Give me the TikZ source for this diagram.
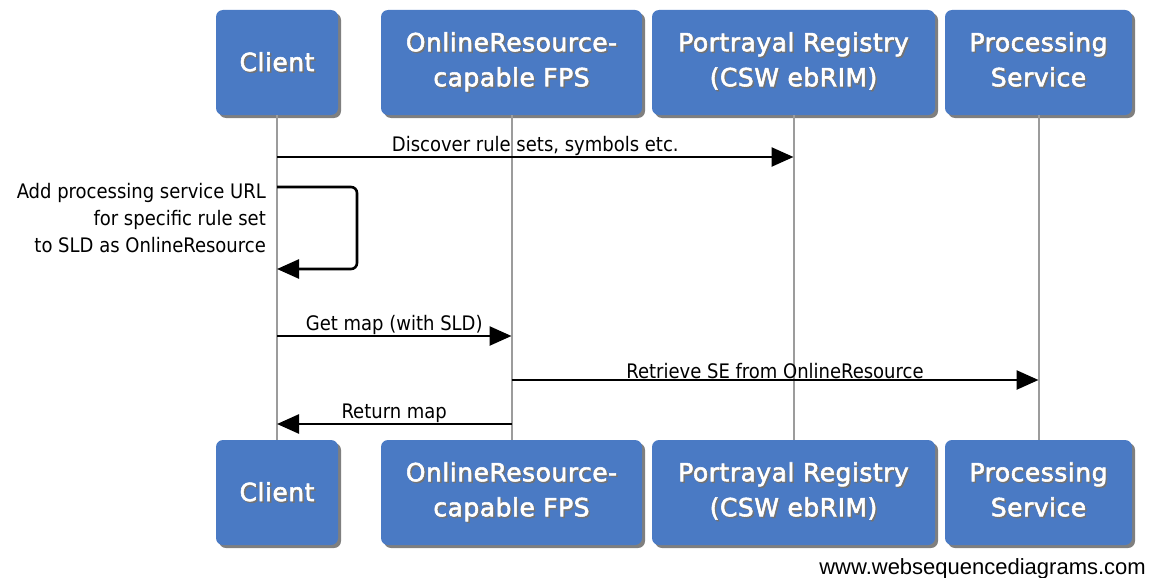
\documentclass[tikz,border=0pt]{standalone}
\usepackage{fontspec}
\setmainfont{DejaVu Sans}
\newfontfamily\boxfont[FakeBold=2.2,LetterSpace=2]{DejaVu Sans}
\newfontfamily\msgfont{DejaVu Sans Condensed}
\newfontfamily\wmfont{Liberation Sans}
\usetikzlibrary{arrows.meta,shadows}
\definecolor{boxblue}{HTML}{4A7AC4}
\definecolor{lifegray}{HTML}{9C9C9C}
% white label with a soft dark copy behind it
\newcommand\shtext[1]{\raisebox{-2pt}{\rlap{\raisebox{-1.5pt}{\kern1.5pt\color{black!55}#1}}#1}}
\newcommand\twoline[2]{\shtext{\begin{tabular}{@{}c@{}}#1\\#2\end{tabular}}}
\begin{document}
\begin{tikzpicture}[x=1pt,y=-1pt,
  actor/.style={fill=boxblue, rounded corners=7pt, text=white,
    font=\boxfont\fontsize{25}{35}\selectfont, align=center, minimum height=105pt,
    inner sep=0pt, drop shadow={shadow xshift=3pt,shadow yshift=-3pt,opacity=0.5,fill=black}},
  lifeline/.style={draw=lifegray, line width=2pt},
  msg/.style={draw=black, line width=2.6pt, -{Triangle[length=22pt,width=19pt]}},
  msglabel/.style={font=\msgfont\fontsize{20}{27}\selectfont, inner sep=0pt}
]
\useasboundingbox (0,0) rectangle (1154,578);

% participants, top row
\node[actor, minimum width=122pt] (cl)  at (277,62.5)    {\shtext{Client}};
\node[actor, minimum width=261pt] (fps) at (511.5,62.5)  {\twoline{OnlineResource-}{capable FPS}};
\node[actor, minimum width=283pt] (reg) at (793.5,62.5)  {\twoline{Portrayal Registry}{(CSW ebRIM)}};
\node[actor, minimum width=187pt] (ps)  at (1038.5,62.5) {\twoline{Processing}{Service}};

% participants, bottom row
\node[actor, minimum width=122pt] (clb)  at (277,492.5)    {\shtext{Client}};
\node[actor, minimum width=261pt] (fpsb) at (511.5,492.5)  {\twoline{OnlineResource-}{capable FPS}};
\node[actor, minimum width=283pt] (regb) at (793.5,492.5)  {\twoline{Portrayal Registry}{(CSW ebRIM)}};
\node[actor, minimum width=187pt] (psb)  at (1038.5,492.5) {\twoline{Processing}{Service}};

% lifelines
\draw[lifeline] (cl.south)  -- (clb.north);
\draw[lifeline] (fps.south) -- (fpsb.north);
\draw[lifeline] (reg.south) -- (regb.north);
\draw[lifeline] (ps.south)  -- (psb.north);

% message 1
\draw[msg] (cl |- 0,157) -- (reg |- 0,157)
  node[msglabel, midway, above=0pt] (m1) {Discover rule sets, symbols etc.};

% self message on the client
\coordinate (s1) at (cl |- 0,187);
\coordinate (s2) at (cl |- 0,269);
\draw[msg, rounded corners=6pt] (s1) -- ++(80,0) |- (s2);
\node[msglabel, anchor=east, align=right] (m2) at (266,218)
  {Add processing service URL\\for specific rule set\\to SLD as OnlineResource};

% message 3
\draw[msg] (cl |- 0,336) -- (fps |- 0,336)
  node[msglabel, midway, above=0pt] (m3) {Get map (with SLD)};

% message 4
\draw[msg] (fps |- 0,380) -- (ps |- 0,380)
  node[msglabel, midway, above=0pt] (m4) {Retrieve SE from OnlineResource};

% message 5
\draw[msg] (fps |- 0,424) -- (cl |- 0,424)
  node[msglabel, midway, above=0pt] (m5) {Return map};

% footer
\node[font=\wmfont\fontsize{22}{26}\selectfont, anchor=base east, inner sep=0pt] (wm) at (1146,574)
  {www.websequencediagrams.com};
\end{tikzpicture}
\end{document}
